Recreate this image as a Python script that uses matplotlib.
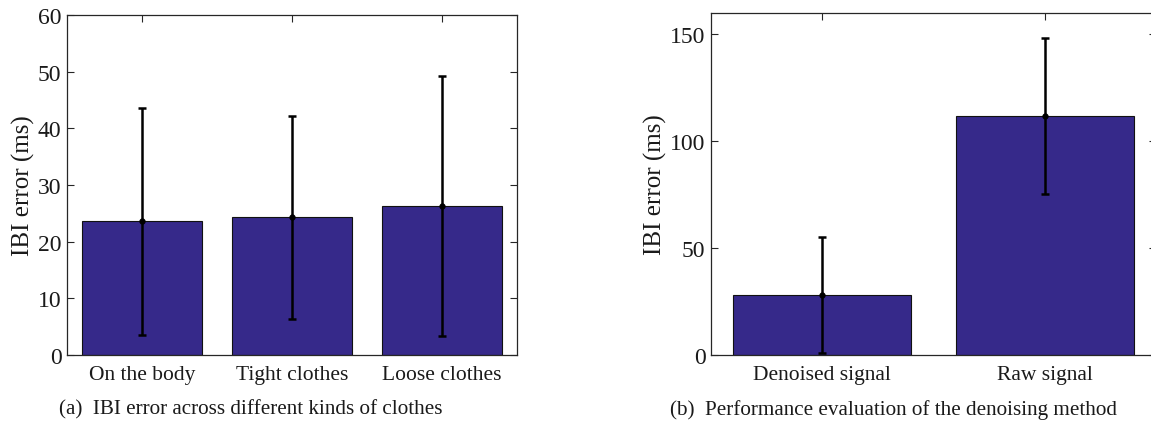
import matplotlib
matplotlib.use("Agg")
import matplotlib.pyplot as plt

plt.rcParams["font.family"] = ["Liberation Serif", "DejaVu Serif"]

# (a) IBI error by clothing condition
clothes_labels = ["On the body", "Tight clothes", "Loose clothes"]
clothes_mean = [23.6, 24.3, 26.3]
clothes_std = [20.0, 17.9, 23.0]
clothes_yticks = [0, 10, 20, 30, 40, 50, 60]

# (b) denoised vs raw signal
signal_labels = ["Denoised signal", "Raw signal"]
signal_mean = [28.0, 112.0]
signal_std = [27.2, 36.5]
signal_yticks = [0, 50, 100, 150]

BAR_COLOR = "#36298A"
AX_COLOR = "#262626"
TEXT_COLOR = "#1a1a1a"
W, H = 1151, 427

fig = plt.figure(figsize=(W / 100, H / 100), dpi=100)


def frac(x0, y0, x1, y1):
    return [x0 / W, 1 - y1 / H, (x1 - x0) / W, (y1 - y0) / H]


def draw_panel(ax, labels, means, stds, yticks, ylim):
    x = list(range(1, len(labels) + 1))
    ax.bar(x, means, width=0.8, color=BAR_COLOR, edgecolor="#111111",
           linewidth=0.8, zorder=2)
    ax.errorbar(x, means, yerr=stds, fmt="o", color="black", ms=3.5,
                elinewidth=1.8, capsize=2.6, capthick=1.8, zorder=3)
    ax.set_xlim(0.5, len(labels) + 0.5)
    ax.set_ylim(*ylim)
    ax.set_xticks(x)
    ax.set_xticklabels(labels)
    ax.set_yticks(yticks)
    ax.tick_params(axis="both", direction="in", top=True, right=True,
                   length=5, width=0.8, color=AX_COLOR,
                   labelcolor=TEXT_COLOR, pad=4)
    ax.tick_params(axis="y", labelsize=17)
    ax.tick_params(axis="x", labelsize=15.5, pad=7)
    for s in ax.spines.values():
        s.set_color(AX_COLOR)
        s.set_linewidth(0.9)
    ax.set_ylabel("IBI error (ms)", fontsize=18, color=TEXT_COLOR, labelpad=2)


ax1 = fig.add_axes(frac(67, 16, 517, 356))
draw_panel(ax1, clothes_labels, clothes_mean, clothes_std, clothes_yticks, (0, 60))

ax2 = fig.add_axes(frac(711, 14, 1156, 356))
draw_panel(ax2, signal_labels, signal_mean, signal_std, signal_yticks, (0, 160))

fig.text(251 / W, 1 - 410 / H, "(a)  IBI error across different kinds of clothes",
         ha="center", va="center", fontsize=15.2, color=TEXT_COLOR)
fig.text(893 / W, 1 - 410 / H, "(b)  Performance evaluation of the denoising method",
         ha="center", va="center", fontsize=15.2, color=TEXT_COLOR)

fig.savefig("out.png", dpi=100)
